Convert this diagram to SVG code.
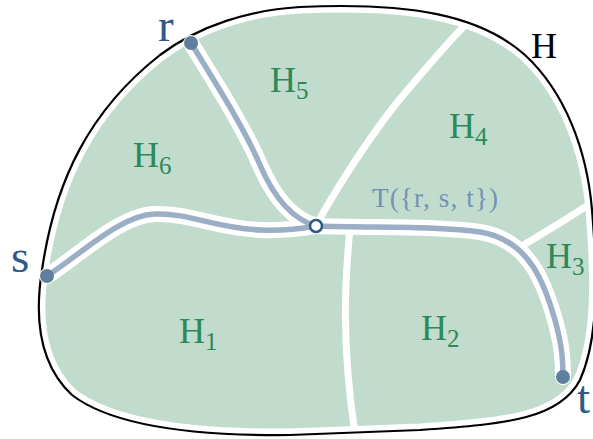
<svg xmlns="http://www.w3.org/2000/svg" width="593" height="439" viewBox="0 0 593 439">
<style>
.sep{fill:none;stroke:#fff;stroke-width:7;stroke-linecap:round;stroke-linejoin:round}
.halo{fill:none;stroke:#fff;stroke-width:16;stroke-linecap:round;stroke-linejoin:round}
.tree{fill:none;stroke:#9aaec6;stroke-width:5.5;stroke-linecap:round;stroke-linejoin:round}
.lab{font-family:"Liberation Serif","DejaVu Serif",serif;fill:#2b8a57;font-size:36px}
.sub{font-size:25px}
.term{font-family:"Liberation Serif","DejaVu Serif",serif;fill:#2f5a86;font-size:47px}
.dot{fill:#5f7f9f}
</style>
<defs>
<path id="outer" d="M 300,7 C 410,2 480,15 525,55 C 565,92 587,150 592,210 C 597,270 600,335 580,380 C 560,418 510,424 420,430 L 290,435 C 200,436 115,428 72,395 C 40,365 34,320 42,270 C 55,180 90,110 160,55 C 200,25 250,10 300,7 Z"/>
</defs>
<g id="regions">
<use href="#outer" fill="#c1dccc" stroke="#fff" stroke-width="13"/>
<path class="sep" d="M 318,222 C 330,200 360,150 395,105 C 420,75 445,45 470,20"/>
<path class="sep" d="M 350,228 C 345,280 341,340 355,434"/>
<path class="sep" d="M 520,247 C 545,232 570,218 598,198"/>
</g>
<g id="boundary">
<use href="#outer" fill="none" stroke="#000" stroke-width="2.2"/>
</g>
<g id="connectors">
<path class="halo" d="M 191,43 C 220,90 245,130 260,165 C 275,200 295,220 316,226"/>
<path class="halo" d="M 47,276 C 80,255 120,215 155,214 C 190,213 215,228 260,230 C 290,231 305,228 316,226"/>
<path class="halo" d="M 316,226 C 380,228 440,226 480,232 C 530,240 545,285 555,320 C 562,345 563,360 563,377"/>
<path class="tree" d="M 191,43 C 220,90 245,130 260,165 C 275,200 295,220 316,226"/>
<path class="tree" d="M 47,276 C 80,255 120,215 155,214 C 190,213 215,228 260,230 C 290,231 305,228 316,226"/>
<path class="tree" d="M 316,226 C 380,228 440,226 480,232 C 530,240 545,285 555,320 C 562,345 563,360 563,377"/>
</g>
<g id="labels">
<text class="lab" x="133" y="167">H<tspan class="sub" dy="7">6</tspan></text>
<text class="lab" x="270" y="92">H<tspan class="sub" dy="7">5</tspan></text>
<text class="lab" x="449" y="138">H<tspan class="sub" dy="7">4</tspan></text>
<text class="lab" x="546" y="268">H<tspan class="sub" dy="7">3</tspan></text>
<text class="lab" x="421" y="340">H<tspan class="sub" dy="7">2</tspan></text>
<text class="lab" x="179" y="343">H<tspan class="sub" dy="7">1</tspan></text>
<text x="531" y="58" font-family="Liberation Serif, DejaVu Serif, serif" font-size="36" fill="#000">H</text>
<text x="372" y="207" font-family="Liberation Serif, DejaVu Serif, serif" font-size="27" fill="#7391b6" textLength="126">T({r, s, t})</text>
<text class="term" x="158" y="41">r</text>
<text class="term" x="11" y="272">s</text>
<text class="term" x="577" y="413">t</text>
</g>
<g id="node-r"><circle class="dot" cx="191" cy="43" r="7"/></g>
<g id="node-s"><circle class="dot" cx="47" cy="276" r="7"/></g>
<g id="node-t"><circle class="dot" cx="563" cy="377" r="7"/></g>
<g id="node-center"><circle cx="316" cy="226" r="6" fill="#fff" stroke="#2d5a85" stroke-width="2.5"/></g>
</svg>
